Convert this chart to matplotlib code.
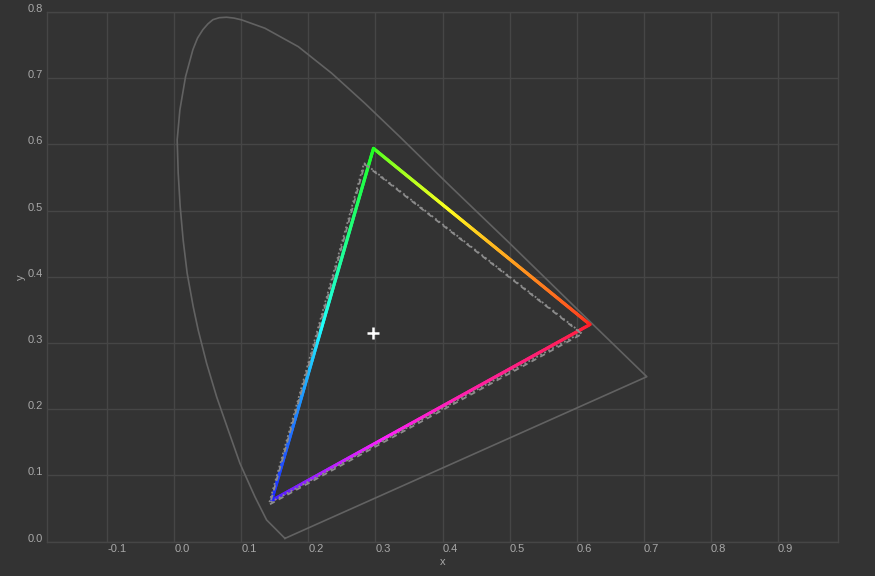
import numpy as np
import matplotlib
matplotlib.use("Agg")
import matplotlib.pyplot as plt
from matplotlib.collections import LineCollection

plt.rcParams['font.family'] = ['Liberation Sans', 'DejaVu Sans']

# Spectral locus, from blue end over the top to red end
locus_x = [0.165, 0.1376, 0.1201, 0.0978, 0.0803, 0.0630, 0.0481, 0.0355, 0.0281,
           0.0191, 0.0131, 0.0087, 0.0057, 0.0042, 0.0082, 0.0167, 0.0276, 0.0345,
           0.0425, 0.0500, 0.0575, 0.0670, 0.0779, 0.0890, 0.1003, 0.1351, 0.1848,
           0.2346, 0.2843, 0.3366, 0.4112, 0.4982, 0.6052, 0.7048]
locus_y = [0.005, 0.0328, 0.068, 0.1184, 0.1687, 0.2190, 0.2695, 0.3198, 0.355,
           0.4054, 0.4557, 0.506, 0.557, 0.6068, 0.652, 0.7024, 0.743, 0.7605,
           0.7733, 0.7820, 0.7884, 0.7914, 0.7921, 0.7908, 0.7881, 0.7755, 0.7477,
           0.7076, 0.6620, 0.6113, 0.5373, 0.4527, 0.3470, 0.2492]

# Colored gamut triangle: green, red, blue primaries
gamut_names = ['G', 'R', 'B']
gamut_x = [0.297, 0.620, 0.145]
gamut_y = [0.594, 0.328, 0.062]

# Reference gamut (gray dashed / dotted)
ref_x = [0.284, 0.608, 0.1425]
ref_y = [0.570, 0.3137, 0.0565]

# White point
white_x = [0.296]
white_y = [0.315]

x_ticks = [-0.1, 0.0, 0.1, 0.2, 0.3, 0.4, 0.5, 0.6, 0.7, 0.8, 0.9]
x_tick_labels = ['-0.1', '0.0', '0.1', '0.2', '0.3', '0.4', '0.5', '0.6', '0.7', '0.8', '0.9']
y_ticks = [0.0, 0.1, 0.2, 0.3, 0.4, 0.5, 0.6, 0.7, 0.8]
y_tick_labels = ['0.0', '0.1', '0.2', '0.3', '0.4', '0.5', '0.6', '0.7', '0.8']

BG = '#333333'
GRID = '#464646'
TXT = '#a8a8a8'

fig = plt.figure(figsize=(8.75, 5.76), dpi=100, facecolor=BG)
ax = fig.add_axes([47 / 875, 1 - 541.7 / 576, (838 - 47) / 875, (541.7 - 12) / 576])
ax.set_facecolor(BG)
ax.set_xlim(-0.190, 0.990)
ax.set_ylim(0.0, 0.8)

ax.set_xticks(x_ticks)
ax.set_xticklabels(x_tick_labels)
ax.set_yticks(y_ticks)
ax.set_yticklabels(y_tick_labels)
ax.tick_params(axis='both', length=0, labelcolor=TXT, labelsize=8)
ax.tick_params(axis='x', pad=2)
ax.tick_params(axis='y', pad=3)
for lab in ax.get_xticklabels():
    lab.set_ha('left')
for lab in ax.get_yticklabels():
    lab.set_va('baseline')
ax.grid(True, color=GRID, linewidth=1.0)
ax.set_axisbelow(True)
for sp in ax.spines.values():
    sp.set_color(GRID)
    sp.set_linewidth(1.0)

ax.set_xlabel('x', color=TXT, fontsize=8, labelpad=2)
ax.set_ylabel('y', color=TXT, fontsize=8, labelpad=1)

# Spectral locus with purple line
lx = list(locus_x) + [locus_x[0]]
ly = list(locus_y) + [locus_y[0]]
ax.plot(lx, ly, color='#626262', linewidth=1.2, zorder=2, solid_joinstyle='round')

# Gradient-colored gamut triangle
Msrgb = np.array([[0.4124, 0.3576, 0.1805],
                  [0.2126, 0.7152, 0.0722],
                  [0.0193, 0.1192, 0.9505]])
Ssum = Msrgb.sum(axis=0)
prim_index = {'R': 0, 'G': 1, 'B': 2}
edge_srgb = [True, True, False]   # G->R, R->B use sRGB curve; B->G milder curve


def enc(c, srgb):
    c = np.clip(c, 0, 1)
    if srgb:
        return np.where(c <= 0.0031308, 12.92 * c, 1.055 * c ** (1 / 2.4) - 0.055)
    return c ** (1 / 1.4)


segs = []
cols = []
n = 240
for i in range(3):
    a, b = i, (i + 1) % 3
    ia, ib = prim_index[gamut_names[a]], prim_index[gamut_names[b]]
    s = np.linspace(0, 1, n + 1)
    px = gamut_x[a] + (gamut_x[b] - gamut_x[a]) * s
    py = gamut_y[a] + (gamut_y[b] - gamut_y[a]) * s
    for k in range(n):
        sm = (s[k] + s[k + 1]) / 2
        rgb = np.zeros(3)
        rgb[ia] += (1 - sm) / Ssum[ia]
        rgb[ib] += sm / Ssum[ib]
        rgb = rgb / rgb.max()
        c = enc(rgb, edge_srgb[i])
        c = 0.12 + 0.88 * c  # slight softening as in the reference
        c[np.argmax(rgb)] = 1.0
        cols.append(tuple(np.clip(c, 0, 1)))
        segs.append([(px[k], py[k]), (px[k + 1], py[k + 1])])
lc = LineCollection(segs, colors=cols, linewidths=2.3, capstyle='round', zorder=3)
ax.add_collection(lc)

# Reference gamut: dashed and dotted
rx = list(ref_x) + [ref_x[0]]
ry = list(ref_y) + [ref_y[0]]
ax.plot(rx, ry, color='#8c8c8c', linewidth=1.3, linestyle=(0, (3, 2.5)), zorder=4)
ax.plot([v - 0.001 for v in rx], [v + 0.002 for v in ry], color='#8c8c8c',
        linewidth=1.3, linestyle=(0, (1, 1.5)), zorder=4)

# White point
ax.plot(white_x, white_y, linestyle='none', marker='+', markersize=8.5,
        markeredgewidth=1.8, color='white', zorder=5)

fig.savefig('out.png', dpi=100, facecolor=BG)
